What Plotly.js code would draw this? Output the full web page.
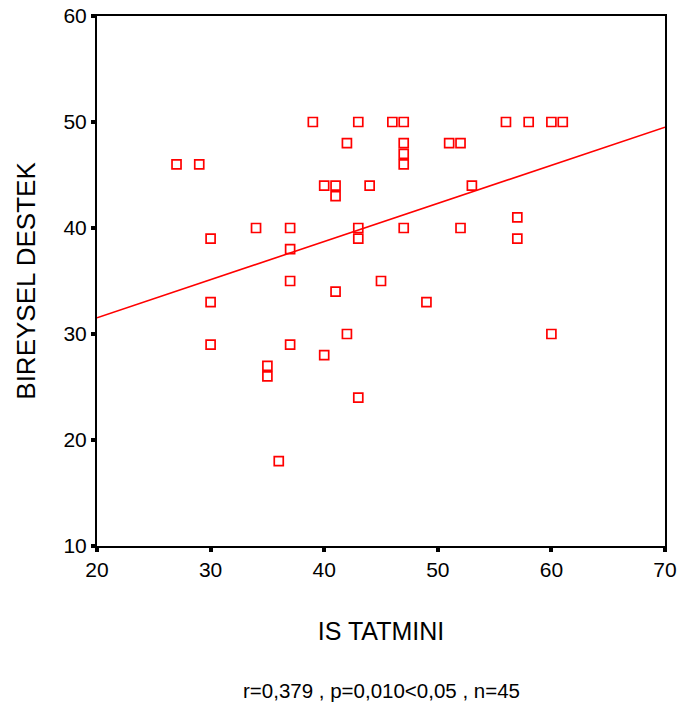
<!DOCTYPE html>
<html>
<head>
<meta charset="utf-8">
<script src="https://cdn.plot.ly/plotly-3.0.1.min.js"></script>
<style>body{margin:0;padding:0;background:#fff;} #chart{width:680px;height:704px;}</style>
</head>
<body>
<div id="chart"></div>
<script>
const isTatmini = [27,29,30,30,30,34,37,37,37,37,35,35,36,39,40,41,41,42,43,43,43,41,42,40,43,44,45,46,47,47,47,47,47,49,51,52,52,53,56,58,60,61,57,57,60];
const bireyselDestek = [46,46,39,33,29,40,40,38,35,29,27,26,18,50,44,44,43,48,50,40,39,34,30,28,24,44,35,50,50,48,47,46,40,33,48,48,40,44,50,50,50,50,41,39,30];
const xTicks = [20,30,40,50,60,70];
const yTicks = [10,20,30,40,50,60];
const footnote = "r=0,379 , p=0,010<0,05 , n=45";

// least squares fit line
const n = isTatmini.length;
const mx = isTatmini.reduce((a,b)=>a+b,0)/n;
const my = bireyselDestek.reduce((a,b)=>a+b,0)/n;
let sxy=0, sxx=0;
for (let i=0;i<n;i++){ sxy += (isTatmini[i]-mx)*(bireyselDestek[i]-my); sxx += (isTatmini[i]-mx)**2; }
const slope = sxy/sxx, intercept = my - slope*mx;
const lineX = [xTicks[0], xTicks[xTicks.length-1]];
const lineY = lineX.map(x => intercept + slope*x);

const traces = [
  {x: isTatmini, y: bireyselDestek, mode:'markers', type:'scatter',
   marker:{symbol:'square-open', size:9, color:'#ff0000', line:{width:1.7, color:'#ff0000'}}, hoverinfo:'x+y'},
  {x: lineX, y: lineY, mode:'lines', type:'scatter', line:{color:'#ff0000', width:1.6}, hoverinfo:'skip'}
];

const layout = {
  width:680, height:704,
  margin:{l:97, r:15, t:16, b:158},
  paper_bgcolor:'#fff', plot_bgcolor:'#fff',
  showlegend:false,
  font:{family:'Liberation Sans, Arial, sans-serif', color:'#000'},
  xaxis:{range:[20,70], tickvals:xTicks, ticktext:xTicks.map(String), showgrid:false, zeroline:false,
    showline:true, linecolor:'#000', linewidth:2, mirror:true,
    ticks:'outside', ticklen:4, tickwidth:4, tickcolor:'#000',
    tickfont:{size:21, color:'#000'},
    title:{text:'IS TATMINI', font:{size:25, color:'#000'}, standoff:42}},
  yaxis:{range:[10,60], tickvals:yTicks, ticktext:yTicks.map(String), showgrid:false, zeroline:false,
    showline:true, linecolor:'#000', linewidth:2, mirror:true,
    ticks:'outside', ticklen:4, tickwidth:4, tickcolor:'#000',
    tickfont:{size:21, color:'#000'},
    title:{text:'BIREYSEL DESTEK', font:{size:26, color:'#000'}, standoff:20}},
  annotations:[{text:footnote, xref:'paper', yref:'paper', x:0.5, y:0, yshift:-144, xanchor:'center', yanchor:'middle', showarrow:false, font:{size:20.5, color:'#000'}}]
};
Plotly.newPlot('chart', traces, layout, {displayModeBar:false, staticPlot:true});
</script>
</body>
</html>
